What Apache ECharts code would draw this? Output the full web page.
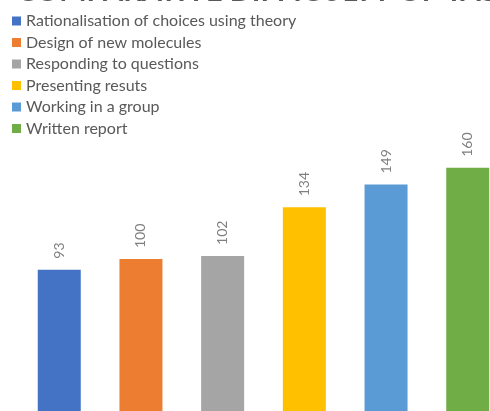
<!DOCTYPE html>
<html>
<head>
<meta charset="utf-8">
<script src="https://cdn.jsdelivr.net/npm/echarts@6/dist/echarts.min.js"></script>
<style>
  html, body { margin: 0; padding: 0; background: #fff; }
</style>
</head>
<body>
<div id="bar" style="width: 490px; height: 411px;"></div>
<script>
  // one category, each task is its own series (so it gets a legend entry)
  var taskNames = ['Rationalisation of choices using theory', 'Design of new molecules',
    'Responding to questions', 'Presenting resuts', 'Working in a group', 'Written report']
  var taskValues = [93, 100, 102, 134, 149, 160]
  var taskColors = ['#4472C4', '#ED7D31', '#A5A5A5', '#FFC000', '#5B9BD5', '#70AD47']
  var category = ['Tasks']

  var series = []
  for (var i = 0; i < taskNames.length; i++) {
    series.push({
      name: taskNames[i],
      type: 'bar',
      barWidth: 43,
      barGap: '90%',
      clip: false,
      data: [taskValues[i]],
      itemStyle: { color: taskColors[i] },
      label: {
        show: true,
        position: 'top',
        rotate: 90,
        align: 'left',
        verticalAlign: 'middle',
        distance: 11,
        color: '#7f7f7f',
        fontSize: 14,
        fontFamily: 'Lato'
      }
    })
  }

  var bar = echarts.init(document.getElementById('bar'))
  bar.setOption({
    animation: false,
    title: {
      text: 'COMPARATIVE DIFFICULTY OF TASKS',
      left: 12,
      top: -28,
      textStyle: {
        color: '#595959',
        fontSize: 29,
        fontWeight: 'bold',
        fontFamily: 'Lato'
      }
    },
    legend: {
      orient: 'vertical',
      left: 7,
      top: 8,
      itemWidth: 9,
      itemHeight: 9,
      itemGap: 5.5,
      icon: 'rect',
      textStyle: {
        color: '#595959',
        fontSize: 16,
        lineHeight: 16,
        fontFamily: 'Lato'
      },
      data: taskNames
    },
    grid: {
      left: 37,
      right: -17,
      top: 107,
      bottom: 0,
      containLabel: false
    },
    xAxis: {
      type: 'category',
      data: category,
      show: false
    },
    yAxis: {
      type: 'value',
      min: 0,
      max: 200,
      show: false,
      splitLine: { show: false }
    },
    series: series
  })
</script>
</body>
</html>
